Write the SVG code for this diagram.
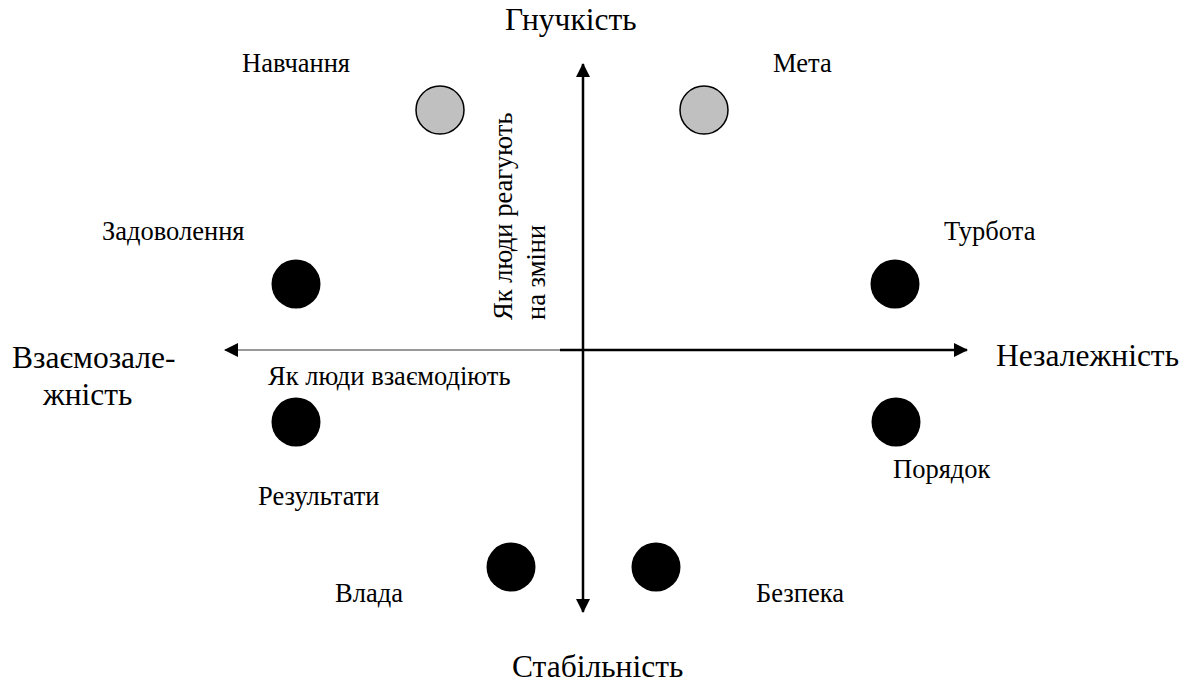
<svg xmlns="http://www.w3.org/2000/svg" width="1187" height="684" viewBox="0 0 1187 684">
<style>
text{font-family:"Liberation Serif","Times New Roman",serif;fill:#000}
.big{font-size:31.5px}
.sm{font-size:26.5px}
.dot{fill:#000}
.grey{fill:#c0c0c0;stroke:#000;stroke-width:1.5}
.axis{stroke:#000;stroke-width:2.5}
</style>
<defs>
<marker id="ah" markerWidth="16" markerHeight="16" refX="13" refY="7" orient="auto-start-reverse" markerUnits="userSpaceOnUse">
<path d="M0,0 L14,7 L0,14 Z" fill="#000"/>
</marker>
</defs>
<rect width="1187" height="684" fill="#fff"/>
<g id="connectors">
<line class="axis" x1="583" y1="64" x2="583" y2="612" marker-start="url(#ah)" marker-end="url(#ah)"/>
<line class="axis" x1="560" y1="350" x2="967" y2="350" marker-end="url(#ah)"/>
<line x1="560" y1="350" x2="225" y2="350" stroke="#333" stroke-width="1" marker-end="url(#ah)"/>
</g>
<g id="axis-labels">
<text class="big" x="505" y="30">Гнучкість</text>
<text class="big" x="512" y="677">Стабільність</text>
<text class="big" x="12" y="368">Взаємозале-</text>
<text class="big" x="43" y="405">жність</text>
<text class="big" x="996" y="366">Незалежність</text>
<text class="sm" x="268" y="385">Як люди взаємодіють</text>
<text class="sm" transform="translate(512,320) rotate(-90)">Як люди реагують</text>
<text class="sm" transform="translate(545,320) rotate(-90)">на зміни</text>
</g>
<g id="n-navchannia"><circle class="grey" cx="440" cy="110" r="24"/><text class="sm" x="242" y="72">Навчання</text></g>
<g id="n-meta"><circle class="grey" cx="704" cy="110" r="24"/><text class="sm" x="773" y="72">Мета</text></g>
<g id="n-zadovolennia"><circle class="dot" cx="296" cy="284" r="24.5"/><text class="sm" x="102" y="240">Задоволення</text></g>
<g id="n-turbota"><circle class="dot" cx="895" cy="284" r="24.5"/><text class="sm" x="944" y="240">Турбота</text></g>
<g id="n-rezultaty"><circle class="dot" cx="296" cy="422" r="24.5"/><text class="sm" x="258" y="505">Результати</text></g>
<g id="n-poriadok"><circle class="dot" cx="896" cy="422" r="24.5"/><text class="sm" x="893" y="478">Порядок</text></g>
<g id="n-vlada"><circle class="dot" cx="511" cy="567" r="24.5"/><text class="sm" x="335" y="602">Влада</text></g>
<g id="n-bezpeka"><circle class="dot" cx="656" cy="567" r="24.5"/><text class="sm" x="756" y="602">Безпека</text></g>
</svg>
